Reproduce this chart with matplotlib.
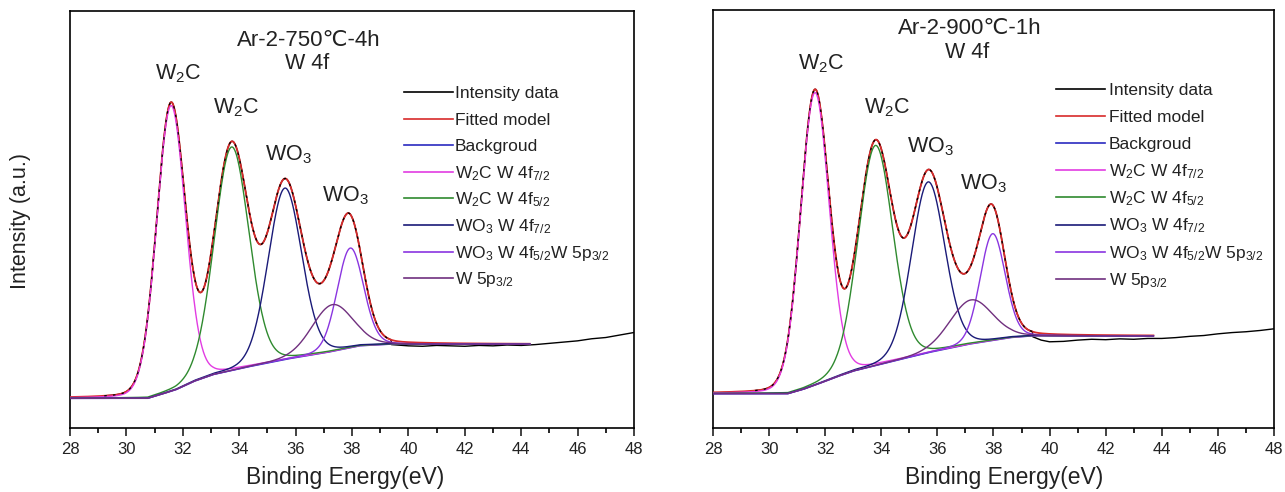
import matplotlib.pyplot as plt
import numpy as np
from matplotlib.ticker import MultipleLocator

plt.rcParams['font.family'] = ['Liberation Sans', 'DejaVu Sans']
plt.rcParams['mathtext.fontset'] = 'custom'
plt.rcParams['mathtext.rm'] = 'Liberation Sans'
plt.rcParams['mathtext.it'] = 'Liberation Sans'
plt.rcParams['mathtext.default'] = 'regular'

# fitted components, same order in both panels
comp_labels = ['W$_2$C W 4f$_{7/2}$', 'W$_2$C W 4f$_{5/2}$', 'WO$_3$ W 4f$_{7/2}$',
               'WO$_3$ W 4f$_{5/2}$W 5p$_{3/2}$', 'W 5p$_{3/2}$']
comp_colors = ['#e23ce2', '#2f8a2f', '#1a1a78', '#8a35e0', '#70307f']
peak_names = ['W$_2$C', 'W$_2$C', 'WO$_3$', 'WO$_3$']

# Ar-2-750C-4h
a_title = 'Ar-2-750℃-4h'
a_centers = [31.58, 33.73, 35.62, 37.94, 37.30]
a_heights = [685, 536, 411, 239, 112]
a_fwhm = [1.20, 1.45, 1.40, 1.10, 1.70]
a_bg_x = [28.0, 30.75, 31.2, 31.76, 32.4, 33.07, 34.2, 35.67, 37.1, 38.27, 39.3, 44.3]
a_bg_y = [71, 71, 80, 92, 112, 128, 145, 165, 181, 197, 201, 201]
a_tail_x = [39.4, 40.0, 40.5, 41.0, 41.5, 42.0, 42.5, 43.0, 43.5, 44.0, 44.5,
            45.0, 45.5, 46.0, 46.5, 47.0, 47.5, 48.0]
a_tail_y = [200, 197, 196, 198, 197, 196, 198, 197, 199, 198, 200,
            203, 206, 209, 214, 217, 223, 229]
a_data_start = 29.2
a_fit_end = 44.3
a_label_pos = [(31.83, 849), (33.89, 767), (35.73, 655), (37.75, 556)]
a_title_pos = [(36.48, 930), (36.40, 873)]

# Ar-2-900C-1h
b_title = 'Ar-2-900℃-1h'
b_centers = [31.63, 33.79, 35.67, 37.97, 37.20]
b_heights = [699, 526, 408, 255, 105]
b_fwhm = [1.20, 1.45, 1.40, 1.05, 1.80]
b_bg_x = [28.0, 30.67, 31.2, 31.7, 32.4, 33.0, 34.2, 35.67, 37.1, 38.6, 39.34, 43.7]
b_bg_y = [82, 82, 92, 104, 122, 136, 156, 180, 200, 216, 220, 220]
b_tail_x = [39.4, 39.7, 40.0, 40.5, 41.0, 41.5, 42.0, 42.5, 43.0, 43.5, 44.0,
            44.5, 45.0, 45.5, 46.0, 46.5, 47.0, 47.5, 48.0]
b_tail_y = [218, 210, 206, 207, 210, 212, 211, 213, 212, 214, 214,
            216, 219, 221, 225, 228, 230, 233, 237]
b_data_start = 29.5
b_fit_end = 43.7
b_label_pos = [(31.85, 871), (34.20, 765), (35.74, 671), (37.63, 583)]
b_title_pos = [(37.16, 954), (37.06, 897)]


def pvoigt(x, c, h, w, eta=0.1):
    g = np.exp(-4 * np.log(2) * ((x - c) / w) ** 2)
    l = 1 / (1 + 4 * ((x - c) / w) ** 2)
    return h * ((1 - eta) * g + eta * l)


def draw_panel(ax, title, centers, heights, fwhm, bg_x, bg_y, tail_x, tail_y,
               data_start, fit_end, label_pos, title_pos):
    x = np.linspace(28, fit_end, 900)
    bg = np.interp(x, bg_x, bg_y)
    comps = [pvoigt(x, c, h, w) for c, h, w in zip(centers, heights, fwhm)]
    fit = bg + np.sum(comps, axis=0)

    # measured curve: follows the fit under the peaks, then the recorded tail
    m = (x >= data_start) & (x < tail_x[0])
    data_x = np.concatenate([x[m], tail_x])
    data_y = np.concatenate([fit[m], tail_y])

    ax.plot(data_x, data_y, color='black', lw=1.0, label='Intensity data', zorder=2)
    ax.plot(x, fit, color='#d82a2a', lw=1.3, label='Fitted model', zorder=3)
    ax.plot(x, bg, color='#2a2ac0', lw=1.0, label='Backgroud', zorder=3)
    for comp, col, lab in zip(comps, comp_colors, comp_labels):
        ax.plot(x, bg + comp, color=col, lw=1.0, label=lab, zorder=4)
    ax.plot(x[m], fit[m], color='black', lw=0.9, dashes=(2, 5), zorder=5)

    ax.set_xlim(28, 48)
    ax.set_ylim(0, 1000)
    ax.xaxis.set_major_locator(MultipleLocator(2))
    ax.xaxis.set_minor_locator(MultipleLocator(1))
    ax.tick_params(axis='x', which='major', direction='out', length=6, width=1.2,
                   labelsize=12, pad=4, colors='#222222')
    ax.tick_params(axis='x', which='minor', direction='out', length=3.5, width=1.2)
    ax.set_yticks([])
    for s in ax.spines.values():
        s.set_linewidth(1.2)

    ax.text(title_pos[0][0], title_pos[0][1], title, fontsize=16, ha='center', va='center',
            color='#222222')
    ax.text(title_pos[1][0], title_pos[1][1], 'W 4f', fontsize=15.5, ha='center', va='center',
            color='#222222')
    for name, (px, py) in zip(peak_names, label_pos):
        ax.text(px, py, name, fontsize=15.5, ha='center', va='center', color='#222222')


def key_box(ax, x0, x1, xt, top, pitch):
    # evenly spaced key rows; positions given in pixels of the axes box
    bb = ax.get_window_extent()
    lines, labels = ax.get_legend_handles_labels()
    for i, (ln, lab) in enumerate(zip(lines, labels)):
        yl = 1 - (top + i * pitch) / bb.height
        yt = 1 - (top + i * pitch + 6.2) / bb.height
        ax.plot([x0 / bb.width, x1 / bb.width], [yl, yl], transform=ax.transAxes,
                color=ln.get_color(), lw=1.2, clip_on=False)
        ax.text(xt / bb.width, yt, lab, transform=ax.transAxes, fontsize=12.5,
                ha='left', va='baseline', color='#222222')


fig = plt.figure(figsize=(12.85, 4.92), dpi=100)
ax1 = fig.add_axes([0.05447, 0.13008, 0.43891, 0.84756])
ax2 = fig.add_axes([0.55486, 0.13008, 0.43658, 0.85061])

draw_panel(ax1, a_title, a_centers, a_heights, a_fwhm, a_bg_x, a_bg_y, a_tail_x, a_tail_y,
           a_data_start, a_fit_end, a_label_pos, a_title_pos)
draw_panel(ax2, b_title, b_centers, b_heights, b_fwhm, b_bg_x, b_bg_y, b_tail_x, b_tail_y,
           b_data_start, b_fit_end, b_label_pos, b_title_pos)

key_box(ax1, 334, 383, 385, 81, 26.6)
key_box(ax2, 343, 392, 396, 79, 27.2)

fig.text(21 / 1285, 0.551, 'Intensity (a.u.)', rotation=90, fontsize=15.5,
         ha='center', va='center', color='#222222')
fig.text(0.2685, 0.0285, 'Binding Energy(eV)', fontsize=16.5, ha='center', va='center',
         color='#222222')
fig.text(0.7817, 0.0285, 'Binding Energy(eV)', fontsize=16.5, ha='center', va='center',
         color='#222222')

fig.savefig('out.png', dpi=100)
